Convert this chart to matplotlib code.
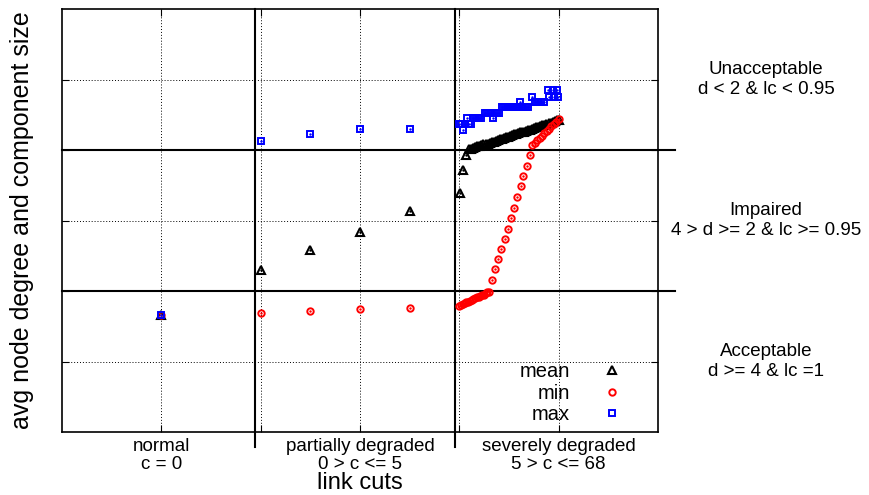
import numpy as np
import matplotlib
matplotlib.use("Agg")
import matplotlib.pyplot as plt
from matplotlib.transforms import blended_transform_factory

plt.rcParams['font.family'] = ['Liberation Sans', 'DejaVu Sans']

# ---------------- data ----------------
categories = ['normal\nc = 0', '', 'partially degraded\n0 > c <= 5', '', 'severely degraded\n5 > c <= 68']
region_labels = ['Unacceptable\nd < 2 & lc < 0.95',
                 'Impaired\n4 > d >= 2 & lc >= 0.95',
                 'Acceptable\nd >= 4 & lc =1']
region_label_y = [1, 3, 5]
thresholds = [2, 4]
region_bounds = [1.945, 3.955]

# normal + partially degraded (x positions on category axis)
x_early = [1.0, 2.0, 2.5, 3.0, 3.5]
mean_early = [4.34, 3.70, 3.42, 3.16, 2.87]
min_early = [4.34, 4.31, 4.28, 4.26, 4.24]
max_early = [4.34, 1.87, 1.77, 1.70, 1.70]

# severely degraded - mean
x_mean_sev = [4.01, 4.04, 4.07] + list(np.linspace(4.10, 5.00, 45))
mean_sev = [2.61, 2.28, 2.07,
            1.99, 1.98, 1.97, 1.96, 1.95, 1.94, 1.93, 1.92, 1.91, 1.91,
            1.90, 1.89, 1.88, 1.87, 1.86, 1.85, 1.84, 1.83, 1.82, 1.81,
            1.80, 1.79, 1.78, 1.77, 1.76, 1.75, 1.74, 1.74, 1.73, 1.72,
            1.71, 1.70, 1.69, 1.68, 1.67, 1.66, 1.65, 1.64, 1.63, 1.62,
            1.61, 1.60, 1.59, 1.58, 1.57]

# severely degraded - min
x_min_sev = (list(np.linspace(4.00, 4.30, 18)) +
             [4.33, 4.36, 4.39, 4.42, 4.46, 4.49, 4.52, 4.55, 4.58, 4.62, 4.64, 4.68, 4.71] +
             list(np.linspace(4.735, 5.00, 12)))
min_sev = [4.21, 4.20, 4.19, 4.17, 4.16, 4.15, 4.14, 4.13, 4.12, 4.10,
           4.09, 4.08, 4.07, 4.06, 4.05, 4.03, 4.02, 4.01,
           3.84, 3.69, 3.55, 3.40, 3.26, 3.12, 2.96, 2.82, 2.67, 2.51, 2.37, 2.22, 2.07,
           1.93, 1.90, 1.86, 1.83, 1.80, 1.76, 1.73, 1.70, 1.66, 1.63, 1.60, 1.56]

# severely degraded - max
x_max_sev = [4.00, 4.02, 4.04, 4.06, 4.08, 4.10, 4.12, 4.14, 4.16, 4.18, 4.20, 4.22,
             4.26, 4.28, 4.30, 4.32, 4.34, 4.36, 4.38, 4.40,
             4.43, 4.45, 4.47, 4.49, 4.51, 4.53, 4.55, 4.57, 4.59, 4.61, 4.63, 4.65, 4.67, 4.69,
             4.73, 4.76, 4.78, 4.80, 4.82, 4.85, 4.89, 4.90, 4.94, 4.95, 4.98, 4.99]
max_sev = [1.63, 1.63, 1.71, 1.63, 1.54, 1.63, 1.63, 1.54, 1.54, 1.54, 1.54, 1.54,
           1.47, 1.47, 1.47, 1.47, 1.54, 1.47, 1.47, 1.47,
           1.39, 1.39, 1.39, 1.39, 1.39, 1.39, 1.39, 1.39, 1.39, 1.32, 1.39, 1.39, 1.39, 1.39,
           1.25, 1.32, 1.32, 1.32, 1.32, 1.32, 1.15, 1.25, 1.15, 1.25, 1.15, 1.25]

# ---------------- figure ----------------
W, H = 869, 495
fig = plt.figure(figsize=(W / 100, H / 100), dpi=100)
ax = fig.add_axes([62 / W, 1 - 432 / H, (658 - 62) / W, (432 - 9) / H])
ax.set_xlim(0, 6)
ax.set_ylim(6, 0)

ax.grid(True, color='black', linestyle=(0, (1, 2)), linewidth=0.7)
ax.set_axisbelow(True)

series = [
    ('mean', x_early + x_mean_sev, mean_early + mean_sev, '^', 'black', 5.2, 1.5),
    ('min', x_early + x_min_sev, min_early + min_sev, 'o', 'red', 4.6, 1.4),
    ('max', x_early + x_max_sev, max_early + max_sev, 's', 'blue', 5.0, 1.4),
]
for name, xs, ys, mk, col, ms, mew in series:
    ax.plot(xs, ys, linestyle='none', marker=mk, markersize=ms, markerfacecolor='none',
            markeredgecolor=col, markeredgewidth=mew, label=name, zorder=3)
    ax.plot(xs, ys, linestyle='none', marker='.', markersize=1.5, color=col,
            label='_nolegend_', zorder=3)

# thresholds and region boundaries
for t in thresholds:
    ax.plot([0, 6.17], [t, t], color='black', linewidth=1.5, clip_on=False, zorder=2)
for b in region_bounds:
    ax.plot([b, b], [0, 6.21], color='black', linewidth=1.5, clip_on=False, zorder=2)

ax.set_xticks([1, 2, 3, 4, 5])
ax.set_xticklabels(categories, fontsize=13.5, linespacing=1.1)
ax.set_yticks([1, 2, 3, 4, 5])
ax.set_yticklabels([])
ax.tick_params(direction='in', length=5, width=0.8, top=True, right=True, pad=4)
for sp in ax.spines.values():
    sp.set_linewidth(1.2)

# region annotations on the right
trans = blended_transform_factory(fig.transFigure, ax.transData)
for lab, yv in zip(region_labels, region_label_y):
    ax.text(766 / W, yv, lab, transform=trans,
            ha='center', va='center', fontsize=13.5, linespacing=1.25, clip_on=False)

fig.text(22 / W, 1 - 220.5 / H, 'avg node degree and component size', rotation=90,
         ha='center', va='center', fontsize=18)
fig.text(360 / W, 1 - 494 / H, 'link cuts', ha='center', va='bottom', fontsize=17)

leg = ax.legend(loc='lower right', bbox_to_anchor=(622 / W, 1 - 424 / H), bbox_transform=fig.transFigure,
                frameon=False, markerfirst=False, fontsize=14.5, handlelength=1.0,
                handletextpad=1.6, labelspacing=0.12, borderpad=0, borderaxespad=0)

fig.savefig('out.png', dpi=100)
